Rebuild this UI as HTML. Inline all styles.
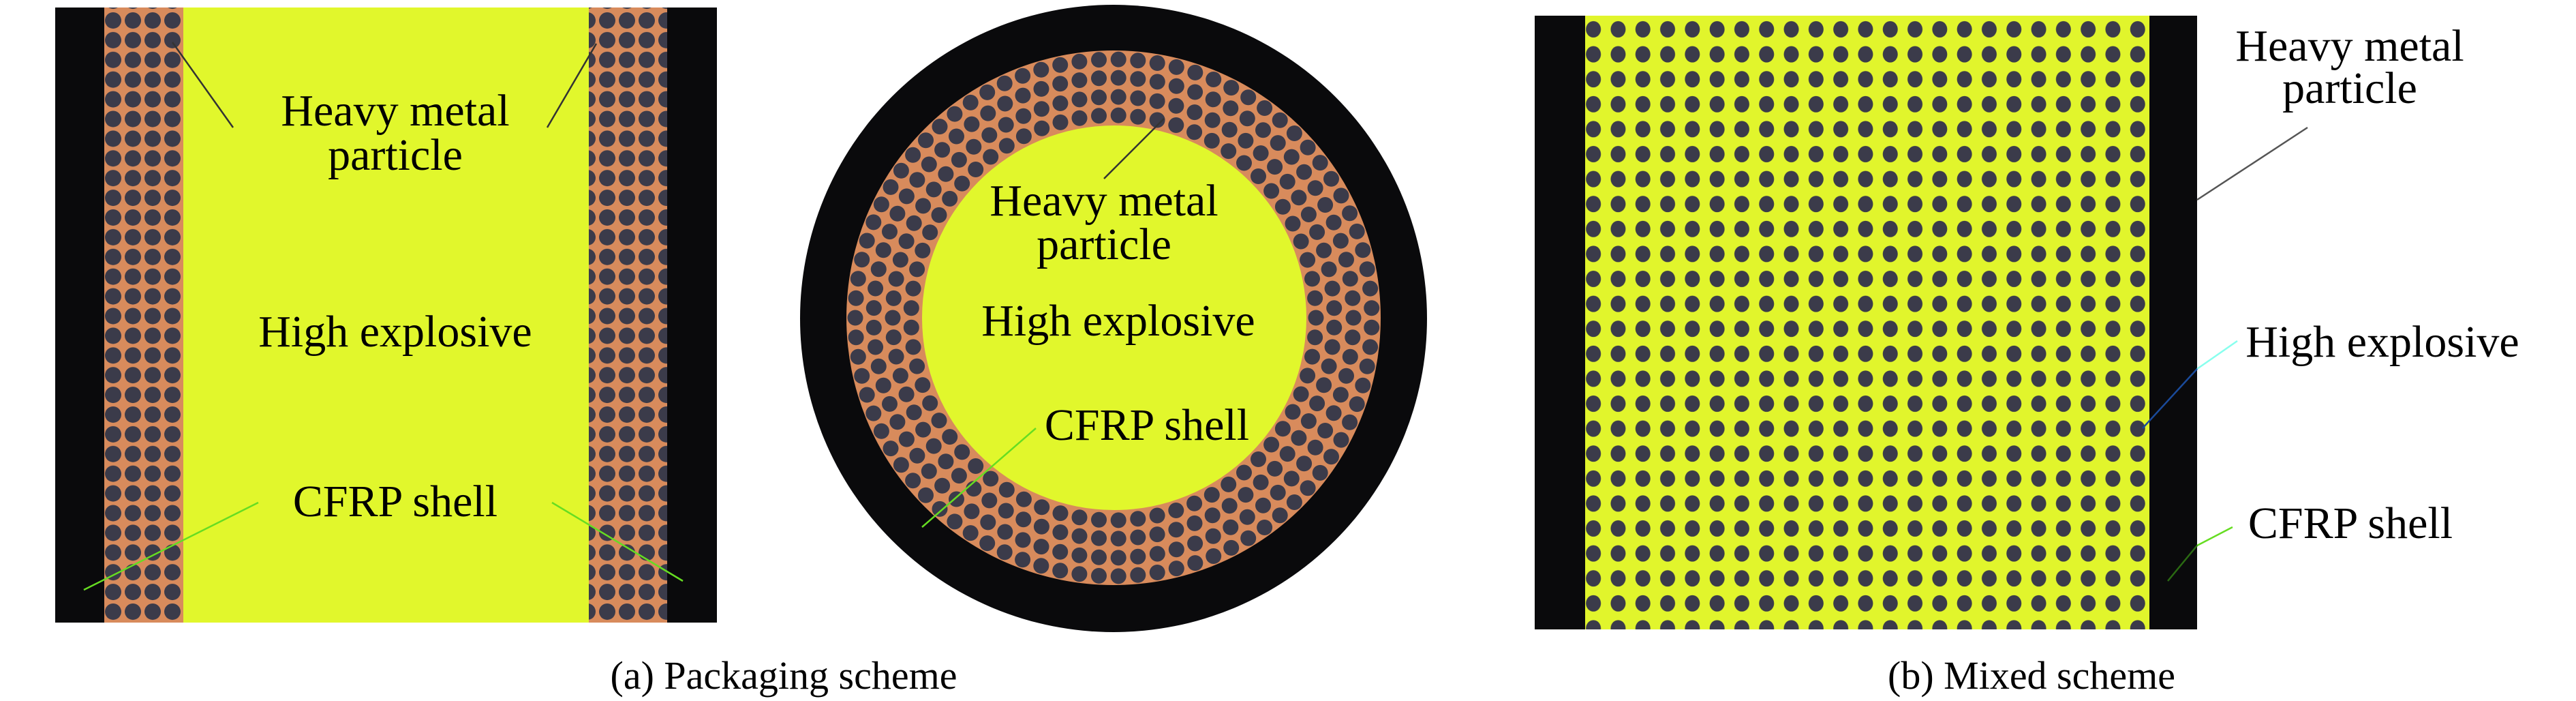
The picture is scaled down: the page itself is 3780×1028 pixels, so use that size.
<!DOCTYPE html>
<html><head><meta charset="utf-8"><style>
html,body{margin:0;padding:0;background:#fff;}
svg{display:block;}
</style></head><body>
<svg id="s" width="3780" height="1028" viewBox="0 0 3780 1028" xmlns="http://www.w3.org/2000/svg">
<defs>
<pattern id="pa" x="151.5" y="15.5" width="29" height="28.9" patternUnits="userSpaceOnUse">
<rect width="29" height="28.9" fill="#d88b5c"/><circle cx="14.5" cy="14.5" r="12" fill="#3b3b4a"/></pattern>
<pattern id="pb" x="2320" y="24.7" width="36.3" height="36.6" patternUnits="userSpaceOnUse">
<rect width="36.3" height="36.6" fill="#e1f52c"/><ellipse cx="18.15" cy="18.3" rx="11" ry="12" fill="#3b3b4a"/></pattern>
</defs>
<!-- Panel a -->
<rect x="81" y="11" width="971" height="902" fill="#0a0a0c"/>
<rect x="153" y="11" width="116" height="902" fill="url(#pa)"/>
<rect x="864" y="11" width="115" height="902" fill="url(#pa)"/>
<rect x="269" y="11" width="595" height="902" fill="#e1f72c"/>
<line x1="253" y1="62" x2="342" y2="187" stroke="#333" stroke-width="2.5"/>
<line x1="875" y1="64" x2="803" y2="187" stroke="#333" stroke-width="2.5"/>
<line x1="379" y1="737" x2="123" y2="865" stroke="#66dd22" stroke-width="2.5"/>
<line x1="810" y1="737" x2="1002" y2="852" stroke="#66dd22" stroke-width="2.5"/>
<g font-family="'Liberation Serif','DejaVu Serif',serif" fill="#000">
<text x="580" y="184" font-size="66" text-anchor="middle">Heavy metal</text>
<text x="580" y="249" font-size="66" text-anchor="middle">particle</text>
<text x="580" y="508" font-size="66" text-anchor="middle">High explosive</text>
<text x="580" y="757" font-size="66" text-anchor="middle">CFRP shell</text>
</g>
<!-- circle -->
<circle cx="1634" cy="467" r="460" fill="#0a0a0c"/>
<circle cx="1634" cy="466" r="392" fill="#d88b5c"/>
<g id="ring"></g>
<circle cx="1635" cy="466" r="282" fill="#e1f72c"/>
<line x1="1708" y1="174" x2="1620" y2="262" stroke="#333" stroke-width="2.5"/>
<line x1="1520" y1="628" x2="1353" y2="773" stroke="#66dd22" stroke-width="2.5"/>
<g font-family="'Liberation Serif','DejaVu Serif',serif" fill="#000">
<text x="1620" y="316" font-size="66" text-anchor="middle">Heavy metal</text>
<text x="1620" y="380" font-size="66" text-anchor="middle">particle</text>
<text x="1641" y="492" font-size="66" text-anchor="middle">High explosive</text>
<text x="1683" y="645" font-size="66" text-anchor="middle">CFRP shell</text>
<text x="1150" y="1010" font-size="58" text-anchor="middle">(a) Packaging scheme</text>
</g>
<!-- Panel b -->
<rect x="2252" y="23" width="972" height="900" fill="#0a0a0c"/>
<rect x="2326" y="23" width="828" height="900" fill="url(#pb)"/>
<line x1="3224" y1="293" x2="3386" y2="187" stroke="#555" stroke-width="2.5"/>
<line x1="3283" y1="500" x2="3224" y2="541" stroke="#88ffee" stroke-width="2.5"/>
<line x1="3224" y1="541" x2="3144" y2="628" stroke="#1a4a9a" stroke-width="2.5"/>
<line x1="3276" y1="773" x2="3224" y2="800" stroke="#66dd22" stroke-width="2.5"/>
<line x1="3224" y1="800" x2="3181" y2="852" stroke="#2a6a12" stroke-width="2.5"/>
<g font-family="'Liberation Serif','DejaVu Serif',serif" fill="#000">
<text x="3448" y="89" font-size="66" text-anchor="middle">Heavy metal</text>
<text x="3448" y="151" font-size="66" text-anchor="middle">particle</text>
<text x="3496" y="523" font-size="66" text-anchor="middle">High explosive</text>
<text x="3449" y="789" font-size="66" text-anchor="middle">CFRP shell</text>
<text x="2981" y="1010" font-size="58" text-anchor="middle">(b) Mixed scheme</text>
</g>
</svg>
<script>
(function(){
var g=document.getElementById('ring'),ns='http://www.w3.org/2000/svg';
var radii=[297,324,352,379];
radii.forEach(function(r,k){
  var n=Math.floor(2*Math.PI*r/28.5);
  for(var i=0;i<n;i++){
    var a=(i+(k%2?0.5:0))*2*Math.PI/n;
    var c=document.createElementNS(ns,'circle');
    c.setAttribute('cx',(1634+r*Math.cos(a)).toFixed(1));
    c.setAttribute('cy',(466+r*Math.sin(a)).toFixed(1));
    c.setAttribute('r','11.5');
    c.setAttribute('fill','#3b3b4a');
    g.appendChild(c);
  }
});
})();
</script>
</body></html>
